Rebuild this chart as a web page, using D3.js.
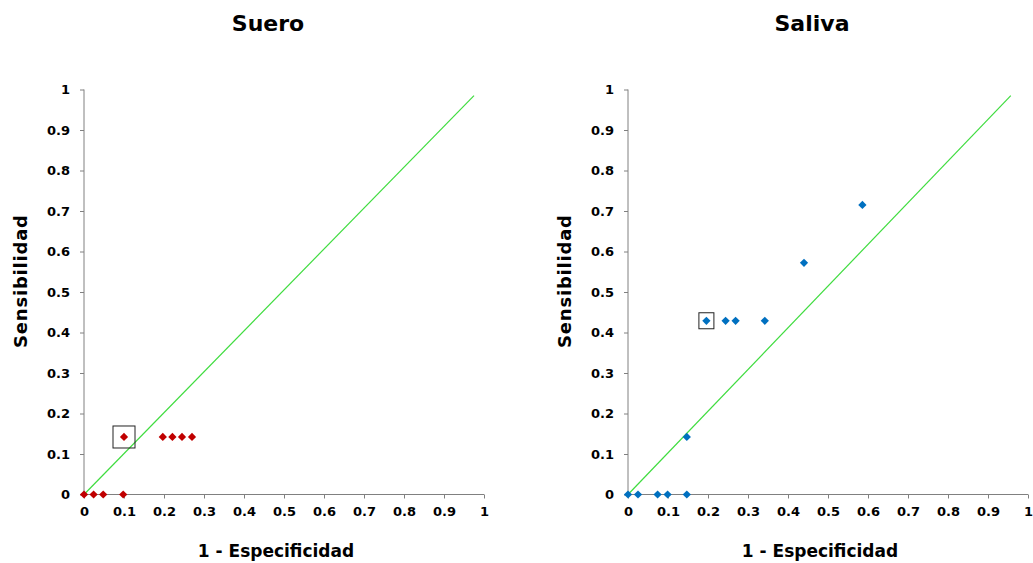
<!DOCTYPE html>
<html><head><meta charset="utf-8">
<script src="https://cdn.jsdelivr.net/npm/d3@7"></script>
<style>body{margin:0;background:#fff}svg{display:block}text{font-family:"DejaVu Sans",Verdana,sans-serif;font-weight:bold;fill:#000}</style>
</head><body>
<svg id="c" width="1033" height="563"></svg>
<script>
const ticks = [0,0.1,0.2,0.3,0.4,0.5,0.6,0.7,0.8,0.9,1];
const titles = ["Suero","Saliva"];
const xTitle = "1 - Especificidad";
const yTitle = "Sensibilidad";
const sueroX = [0,0.024,0.048,0.098,0.1,0.197,0.221,0.245,0.27];
const sueroY = [0,0,0,0,0.142,0.142,0.142,0.142,0.142];
const salivaX = [0,0.025,0.074,0.099,0.147,0.147,0.196,0.244,0.269,0.342,0.44,0.586];
const salivaY = [0,0,0,0,0,0.142,0.429,0.429,0.429,0.429,0.572,0.715];
const sueroDiag = [[0,0],[0.975,0.985]];
const salivaDiag = [[0,0],[0.957,0.985]];
const sueroHighlight = [0.1,0.142];
const salivaHighlight = [0.196,0.429];

const panels = [
  {title:titles[0], xs:sueroX, ys:sueroY, diag:sueroDiag, hl:sueroHighlight, color:"#c00000", left:84, titleX:268, boxW:22, boxH:22, ytx:27},
  {title:titles[1], xs:salivaX, ys:salivaY, diag:salivaDiag, hl:salivaHighlight, color:"#0070c0", left:628, titleX:812, boxW:15, boxH:16, ytx:571}
];
const svg = d3.select("#c");
panels.forEach(p=>{
  const x = d3.scaleLinear().domain([0,1]).range([p.left, p.left+400]);
  const y = d3.scaleLinear().domain([0,1]).range([494.5, 89.5]);
  const g = svg.append("g");
  g.append("text").attr("x",p.titleX).attr("y",31).attr("text-anchor","middle").style("font-size","22px").text(p.title);
  const ax = g.append("g").attr("transform",`translate(0,${y(0)})`)
    .call(d3.axisBottom(x).tickValues(ticks).tickSize(4).tickPadding(8).tickFormat(d3.format("")));
  const ay = g.append("g").attr("transform",`translate(${x(0)},0)`)
    .call(d3.axisLeft(y).tickValues(ticks).tickSize(4).tickPadding(10).tickFormat(d3.format("")));
  [ax,ay].forEach(a=>{
    a.select(".domain").attr("stroke","#808080");
    a.selectAll(".tick line").attr("stroke","#808080");
    a.selectAll(".tick text").style("font-size","13px").style("font-family",'"DejaVu Sans",Verdana,sans-serif').style("font-weight","bold").attr("fill","#000");
  });
  ax.select(".domain").attr("d",`M${x(0)},0H${x(1)}`);
  ay.select(".domain").attr("d",`M0,${y(0)}V${y(1)}`);
  g.append("path").attr("d",d3.line().x(d=>x(d[0])).y(d=>y(d[1]))(p.diag))
    .attr("stroke","#3fdc3f").attr("stroke-width",1.2).attr("fill","none");
  const sym = d3.symbol().type(d3.symbolSquare).size(34);
  g.selectAll("path.pt").data(p.xs.map((v,i)=>[v,p.ys[i]])).join("path").attr("class","pt")
    .attr("d",sym).attr("transform",d=>`translate(${x(d[0])},${y(d[1])}) rotate(45)`).attr("fill",p.color);
  g.append("rect").attr("x",x(p.hl[0])-p.boxW/2).attr("y",y(p.hl[1])-p.boxH/2)
    .attr("width",p.boxW).attr("height",p.boxH).attr("fill","none").attr("stroke","#222").attr("stroke-width",1);
  g.append("text").attr("x",p.left+192).attr("y",557).attr("text-anchor","middle").style("font-size","17px").text(xTitle);
  g.append("text").attr("transform",`translate(${p.ytx},281.5) rotate(-90)`).attr("text-anchor","middle")
    .style("font-size","18px").attr("textLength",133).attr("lengthAdjust","spacing").text(yTitle);
});
</script>
</body></html>
